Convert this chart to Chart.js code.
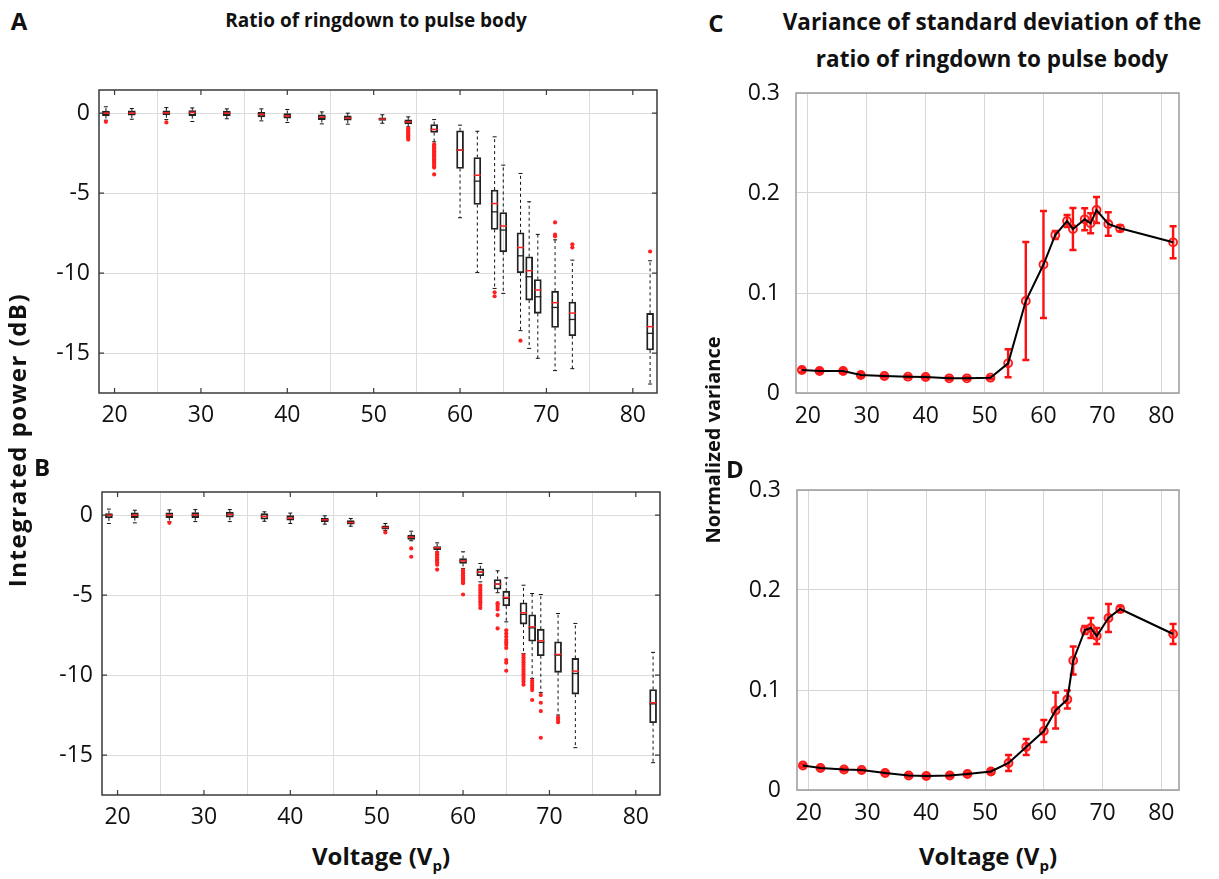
<!DOCTYPE html>
<html><head><meta charset="utf-8">
<script src="https://cdn.jsdelivr.net/npm/chart.js@4/dist/chart.umd.min.js"></script>
<style>
html,body{margin:0;padding:0;background:#fff;}
#wrap{position:relative;width:1219px;height:879px;background:#fff;overflow:hidden;font-family:"Open Sans",sans-serif;}
canvas{position:absolute;}
.t{position:absolute;white-space:nowrap;font-weight:bold;color:#111;transform:translate(-50%,-50%);}
.r{transform:translate(-50%,-50%) rotate(-90deg);}
</style></head>
<body><div id="wrap">
<canvas id="cA" width="640" height="350" style="left:30px;top:80px"></canvas>
<canvas id="cB" width="640" height="355" style="left:30px;top:480px"></canvas>
<canvas id="cC" width="489" height="350" style="left:730px;top:80px"></canvas>
<canvas id="cD" width="489" height="352" style="left:730px;top:478px"></canvas>
<div class="t" style="left:19px;top:20px;font-size:24px">A</div>
<div class="t" style="left:376px;top:20px;font-size:19px">Ratio of ringdown to pulse body</div>
<div class="t" style="left:42px;top:466px;font-size:24px">B</div>
<div class="t" style="left:716px;top:22px;font-size:24px">C</div>
<div class="t" style="left:992px;top:21px;font-size:22.5px">Variance of standard deviation of the</div>
<div class="t" style="left:992px;top:58px;font-size:22.5px">ratio of ringdown to pulse body</div>
<div class="t" style="left:735px;top:468px;font-size:24px">D</div>
<div class="t r" style="left:16px;top:440px;font-size:24px;letter-spacing:1.5px">Integrated power (dB)</div>
<div class="t r" style="left:712px;top:440px;font-size:20px">Normalized variance</div>
<div class="t" style="left:381px;top:857px;font-size:24px">Voltage (V<sub style="font-size:15px">p</sub>)</div>
<div class="t" style="left:988px;top:857px;font-size:24px">Voltage (V<sub style="font-size:15px">p</sub>)</div>
</div>
<script>
// ---------- DATA ----------
const volts = [19,22,26,29,33,37,40,44,47,51,54,57,60,62,64,65,67,68,69,71,73,82];
const xTicks = [20,30,40,50,60,70,80];
const yTicksDb = [0,-5,-10,-15];
const yTicksVar = [0,0.1,0.2,0.3];

// Panel A: ratio of ringdown to pulse body (dB)
const medA  = [0.0,0.0,0.02,0.05,0.0,-0.08,-0.17,-0.25,-0.31,-0.37,-0.54,-1.02,-2.31,-3.88,-5.65,-7.06,-8.40,-9.85,-11.06,-11.85,-12.50,-13.35];
const meanA = [0.0,0.0,0.02,0.05,0.0,-0.08,-0.17,-0.25,-0.31,-0.37,-0.54,-1.02,-2.31,-4.25,-6.17,-7.31,-8.92,-10.23,-11.48,-12.15,-12.90,-13.77];
const q3A   = [0.13,0.15,0.15,0.17,0.13,0.06,-0.02,-0.10,-0.17,-0.29,-0.42,-0.71,-1.10,-2.77,-4.81,-6.21,-7.48,-8.98,-10.40,-11.13,-11.81,-12.52];
const q1A   = [-0.15,-0.12,-0.10,-0.15,-0.15,-0.23,-0.31,-0.40,-0.44,-0.46,-0.67,-1.21,-3.46,-5.71,-7.27,-8.67,-9.98,-11.69,-12.52,-13.40,-13.92,-14.81];
const hiA   = [0.40,0.29,0.35,0.33,0.27,0.27,0.23,0.08,0.0,-0.10,-0.23,-0.40,-0.75,-1.13,-1.48,-3.25,-3.77,-5.54,-7.58,-7.92,-9.19,-9.23];
const loA   = [-0.44,-0.38,-0.40,-0.52,-0.35,-0.48,-0.58,-0.67,-0.69,-0.63,-0.85,-1.79,-6.54,-9.96,-10.96,-11.27,-13.60,-14.71,-15.33,-16.10,-15.98,-16.94];
const outA  = [[-0.54],[],[-0.58],[],[],[],[],[],[],[],
  [-0.95,-1.05,-1.12,-1.22,-1.3,-1.38,-1.47,-1.55,-1.65],
  [-1.95,-2.05,-2.12,-2.2,-2.3,-2.38,-2.47,-2.55,-2.63,-2.72,-2.8,-2.9,-2.98,-3.07,-3.18,-3.3,-3.4,-3.83],
  [],[],[-11.2,-11.45],[],[-14.23],[],[],[-6.83,-7.6,-7.7],[-8.2,-8.4],[-8.65]];

// Panel B
const medB  = [0.0,0.0,0.02,0.02,0.04,-0.08,-0.19,-0.29,-0.46,-0.77,-1.375,-2.04,-2.85,-3.56,-4.31,-5.15,-6.10,-6.98,-7.85,-8.71,-9.75,-11.73];
const meanB = [0.0,0.0,0.02,0.02,0.04,-0.08,-0.19,-0.29,-0.46,-0.77,-1.375,-2.04,-2.85,-3.56,-4.31,-5.20,-6.20,-7.05,-7.95,-8.75,-9.90,-11.80];
const q3B   = [0.10,0.15,0.15,0.17,0.19,0.10,-0.02,-0.19,-0.33,-0.67,-1.25,-1.96,-2.71,-3.35,-4.02,-4.75,-5.48,-6.23,-7.13,-7.92,-8.96,-10.90];
const q1B   = [-0.17,-0.15,-0.15,-0.15,-0.13,-0.25,-0.31,-0.40,-0.56,-0.88,-1.52,-2.15,-3.02,-3.79,-4.63,-5.67,-6.81,-7.88,-8.79,-9.83,-11.19,-12.98];
const hiB   = [0.38,0.31,0.33,0.35,0.35,0.21,0.13,-0.04,-0.21,-0.52,-1.0,-1.73,-2.29,-3.02,-3.48,-3.92,-4.38,-4.90,-4.96,-6.15,-6.77,-8.58];
const loB   = [-0.52,-0.48,-0.40,-0.40,-0.40,-0.38,-0.52,-0.56,-0.69,-0.96,-1.60,-2.29,-3.33,-4.17,-4.85,-6.67,-8.65,-10.21,-11.10,-12.50,-14.54,-15.48];
const outB  = [[],[],[-0.48],[],[],[],[],[],[],[-1.08],
  [-2.08,-2.6],
  [-2.35,-2.45,-2.55,-2.65,-2.75,-2.85,-2.95,-3.1,-3.4],
  [-3.45,-3.55,-3.65,-3.75,-3.85,-3.95,-4.05,-4.15,-4.25,-4.96],
  [-4.4,-4.55,-4.7,-4.85,-5.0,-5.15,-5.3,-5.45,-5.6,-5.8],
  [-5.5,-5.6,-5.75,-5.9,-6.25,-7.08],
  [-7.2,-7.4,-7.6,-7.8,-7.95,-8.1,-8.3,-9.06,-9.23,-9.73],
  [-8.75,-8.9,-9.05,-9.2,-9.35,-9.5,-9.65,-9.8,-9.95,-10.1,-10.25,-10.4,-10.6],
  [-10.35,-10.5,-10.65,-10.8,-10.94,-11.56],
  [-11.25,-11.73,-12.25,-13.92],
  [-12.65,-12.8,-12.95],[],[]];

// Panel C / D: normalized variance with error bars
const varC = [0.023,0.022,0.022,0.018,0.017,0.0163,0.016,0.0147,0.0147,0.0153,0.0297,0.092,0.1285,0.158,0.172,0.164,0.1737,0.1697,0.183,0.169,0.1647,0.1507];
const errC = [0.002,0.002,0.002,0.002,0.0015,0.0015,0.0015,0.0015,0.0015,0.0015,0.014,0.059,0.0535,0.004,0.006,0.021,0.011,0.010,0.013,0.0117,0.003,0.016];
const varD = [0.0245,0.022,0.0205,0.020,0.017,0.0145,0.014,0.0145,0.016,0.0185,0.027,0.043,0.059,0.0795,0.0905,0.1295,0.160,0.162,0.154,0.172,0.181,0.156];
const errD = [0.0015,0.0015,0.0015,0.0015,0.0015,0.0015,0.0015,0.0015,0.0015,0.002,0.008,0.008,0.011,0.018,0.009,0.014,0.004,0.010,0.008,0.014,0.003,0.010];

// ---------- HELPERS ----------
const FONT = "'Open Sans', sans-serif";
function setTicks(arr){ return s => { s.ticks = arr.map(v => ({value:v})); }; }
function fitX(h){ return s => { s.height = h; s.paddingLeft = 0; s.paddingRight = 0; s.paddingTop = 0; s.paddingBottom = 0; }; }
function fitY(w){ return s => { s.width = w; s.paddingTop = 0; s.paddingBottom = 0; s.paddingLeft = 0; s.paddingRight = 0; }; }

const framePlugin = {
  id:'frame',
  afterDraw(chart, args, o){
    const {ctx, chartArea:a, scales:{x,y}} = chart;
    ctx.save();
    ctx.strokeStyle = o.color; ctx.lineWidth = o.width;
    ctx.strokeRect(a.left, a.top, a.right-a.left, a.bottom-a.top);
    if (o.ticks){
      ctx.lineWidth = 1.2;
      ctx.beginPath();
      x.ticks.forEach(t => { const px = x.getPixelForValue(t.value);
        ctx.moveTo(px,a.bottom); ctx.lineTo(px,a.bottom-5);
        ctx.moveTo(px,a.top); ctx.lineTo(px,a.top+5); });
      y.ticks.forEach(t => { const py = y.getPixelForValue(t.value);
        ctx.moveTo(a.left,py); ctx.lineTo(a.left+5,py);
        ctx.moveTo(a.right,py); ctx.lineTo(a.right-5,py); });
      ctx.stroke();
    }
    ctx.restore();
  }
};

const whiskerPlugin = {
  id:'whisk',
  beforeDatasetsDraw(chart, args, o){
    if (!o.hi) return;
    const {ctx, scales:{x,y}} = chart;
    ctx.save();
    ctx.strokeStyle = '#111'; ctx.lineWidth = 1;
    volts.forEach((v,i) => {
      const px = x.getPixelForValue(v);
      ctx.setLineDash([3,3]);
      ctx.beginPath();
      ctx.moveTo(px, y.getPixelForValue(o.q3[i])); ctx.lineTo(px, y.getPixelForValue(o.hi[i]));
      ctx.moveTo(px, y.getPixelForValue(o.q1[i])); ctx.lineTo(px, y.getPixelForValue(o.lo[i]));
      ctx.stroke();
      ctx.setLineDash([]);
      ctx.beginPath();
      ctx.moveTo(px-2, y.getPixelForValue(o.hi[i])); ctx.lineTo(px+2, y.getPixelForValue(o.hi[i]));
      ctx.moveTo(px-2, y.getPixelForValue(o.lo[i])); ctx.lineTo(px+2, y.getPixelForValue(o.lo[i]));
      ctx.stroke();
    });
    ctx.restore();
  }
};

const errPlugin = {
  id:'errbars',
  beforeDatasetsDraw(chart, args, o){
    if (!o.val) return;
    const {ctx, scales:{x,y}} = chart;
    ctx.save();
    ctx.strokeStyle = '#ff1010'; ctx.lineWidth = 2.4;
    volts.forEach((v,i) => {
      const px = x.getPixelForValue(v);
      const t = y.getPixelForValue(o.val[i] + o.err[i]);
      const b = y.getPixelForValue(o.val[i] - o.err[i]);
      ctx.beginPath();
      ctx.moveTo(px,t); ctx.lineTo(px,b);
      ctx.moveTo(px-3.5,t); ctx.lineTo(px+3.5,t);
      ctx.moveTo(px-3.5,b); ctx.lineTo(px+3.5,b);
      ctx.stroke();
    });
    ctx.restore();
  }
};

function boxChart(id, d, geo){
  const pts = [];
  d.out.forEach((arr,i) => arr.forEach(v => pts.push({x:volts[i], y:v})));
  return new Chart(document.getElementById(id), {
    type:'scatter',
    data:{datasets:[
      {type:'bar', data: volts.map((v,i)=>({x:v, y:[d.q1[i], d.q3[i]]})), barThickness:7,
        backgroundColor:'rgba(255,255,255,0)', borderColor:'#222', borderWidth:1.2, borderSkipped:false, order:3},
      {type:'scatter', data: volts.map((v,i)=>({x:v, y:d.mean[i]})), pointStyle:'line', pointRadius:3.5,
        borderColor:'#222', borderWidth:1.3, order:2},
      {type:'scatter', data: volts.map((v,i)=>({x:v, y:d.med[i]})), pointStyle:'line', pointRadius:3.5,
        borderColor:'#ff2020', borderWidth:1.5, order:1},
      {type:'scatter', data: pts, pointStyle:'circle', pointRadius:2.1, borderWidth:0,
        backgroundColor:'#ff2020', borderColor:'#ff2020', order:0}
    ]},
    options:{
      responsive:false, animation:false, events:[],
      layout:{padding:{top:geo.top, right:geo.right, left:0, bottom:0}},
      plugins:{legend:{display:false}, tooltip:{enabled:false},
        frame:{color:'#3a3a3a', width:1.5, ticks:true},
        whisk:{q1:d.q1, q3:d.q3, hi:d.hi, lo:d.lo}},
      scales:{
        x:{type:'linear', min:18.2, max:82.8, offset:false, afterBuildTicks:setTicks(xTicks),
          afterFit:fitX(geo.xh),
          grid:{color:'#dcdcdc', lineWidth:1, drawTicks:false}, border:{display:false},
          ticks:{color:'#111', padding:9, font:{family:FONT, size:23}, maxRotation:0}},
        y:{type:'linear', min:-17.5, max:1.45, afterBuildTicks:setTicks(yTicksDb),
          afterFit:fitY(geo.yw),
          grid:{color:'#dcdcdc', lineWidth:1, drawTicks:false}, border:{display:false},
          ticks:{color:'#111', padding:9, font:{family:FONT, size:23}}}
      }
    },
    plugins:[framePlugin, whiskerPlugin]
  });
}

function varChart(id, val, err, geo, fillCol){
  return new Chart(document.getElementById(id), {
    type:'scatter',
    data:{datasets:[
      {type:'line', data: volts.map((v,i)=>({x:v, y:val[i]})), borderColor:'#000', borderWidth:2,
        pointRadius:0, fill:false, tension:0, order:0},
      {type:'scatter', data: volts.map((v,i)=>({x:v, y:val[i]})), pointStyle:'circle', pointRadius:4,
        borderColor:'#ff1a1a', borderWidth:1.8, backgroundColor:fillCol, order:1}
    ]},
    options:{
      responsive:false, animation:false, events:[],
      layout:{padding:{top:geo.top, right:geo.right, left:0, bottom:0}},
      plugins:{legend:{display:false}, tooltip:{enabled:false},
        frame:{color:'#9a9a9a', width:1.5, ticks:false},
        errbars:{val:val, err:err}},
      scales:{
        x:{type:'linear', min:18, max:83, offset:false, afterBuildTicks:setTicks(xTicks),
          afterFit:fitX(geo.xh),
          grid:{color:'#d6d6d6', lineWidth:1, drawTicks:false}, border:{display:false},
          ticks:{color:'#111', padding:10, font:{family:FONT, size:23}, maxRotation:0}},
        y:{type:'linear', min:0, max:0.3, afterBuildTicks:setTicks(yTicksVar),
          afterFit:fitY(geo.yw),
          grid:{color:'#d6d6d6', lineWidth:1, drawTicks:false}, border:{display:false},
          ticks:{color:'#111', padding:16, font:{family:FONT, size:23}}}
      }
    },
    plugins:[framePlugin, errPlugin]
  });
}

boxChart('cA', {med:medA, mean:meanA, q1:q1A, q3:q3A, hi:hiA, lo:loA, out:outA}, {top:10, right:13, xh:37, yw:69});
boxChart('cB', {med:medB, mean:meanB, q1:q1B, q3:q3B, hi:hiB, lo:loB, out:outB}, {top:12, right:10, xh:40, yw:72});
varChart('cC', varC, errC, {top:13, right:40, xh:37, yw:66}, 'rgba(255,60,60,0.2)');
varChart('cD', varD, errD, {top:12, right:40, xh:40, yw:67}, 'rgba(255,40,40,0.5)');
</script>
</body></html>
